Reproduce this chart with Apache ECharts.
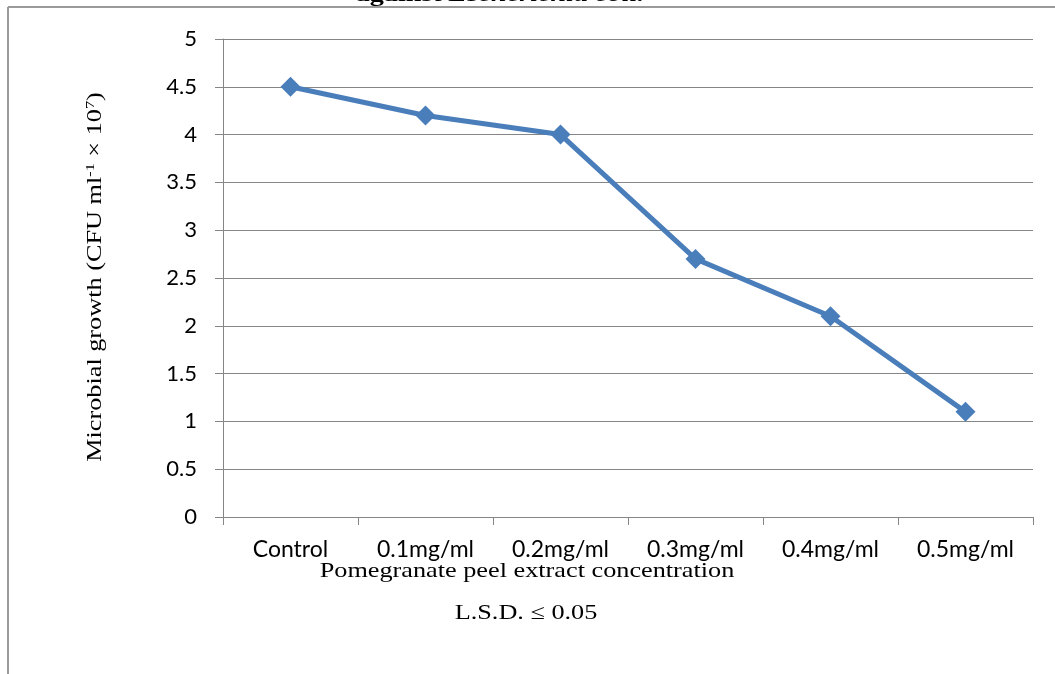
<!DOCTYPE html>
<html>
<head>
<meta charset="utf-8">
<script src="https://cdn.jsdelivr.net/npm/echarts@6/dist/echarts.min.js"></script>
<style>
html,body{margin:0;padding:0;background:#fff;}
#chart{width:1055px;height:674px;}
</style>
</head>
<body>
<div id="chart"></div>
<script>
var categories = ['Control', '0.1mg/ml', '0.2mg/ml', '0.3mg/ml', '0.4mg/ml', '0.5mg/ml'];
var growthValues = [4.5, 4.2, 4.0, 2.7, 2.1, 1.1];
var yTicks = { min: 0, max: 5, interval: 0.5 };

var chart = echarts.init(document.getElementById('chart'));
var serif = '"Liberation Serif", "Times New Roman", serif';
var sans = 'Lato, "Open Sans", sans-serif';

chart.setOption({
  animation: false,
  backgroundColor: '#fff',
  grid: { left: 223, right: 22, top: 39, bottom: 157, containLabel: false },
  xAxis: {
    type: 'category',
    data: categories,
    boundaryGap: true,
    axisLine: { show: true, lineStyle: { color: '#868686', width: 1 } },
    axisTick: { show: true, length: 8, lineStyle: { color: '#868686' } },
    axisLabel: { color: '#000', fontFamily: sans, fontSize: 23, margin: 21 },
    splitLine: { show: false }
  },
  yAxis: {
    type: 'value',
    min: yTicks.min, max: yTicks.max, interval: yTicks.interval,
    axisLine: { show: true, lineStyle: { color: '#868686', width: 1 } },
    axisTick: { show: true, length: 8, lineStyle: { color: '#868686' } },
    axisLabel: { color: '#000', fontFamily: sans, fontSize: 22, margin: 26 },
    splitLine: { show: true, lineStyle: { color: '#868686', width: 1 } }
  },
  series: [{
    type: 'line',
    data: growthValues,
    symbol: 'diamond',
    symbolSize: 20,
    lineStyle: { color: '#4a7ebb', width: 5 },
    itemStyle: { color: '#4a7ebb' }
  }],
  graphic: [
    { type: 'line', shape: { x1: 8, y1: 7, x2: 1055, y2: 7 }, style: { stroke: '#9a9a9a', lineWidth: 2 } },
    { type: 'line', shape: { x1: 8, y1: 7, x2: 8, y2: 674 }, style: { stroke: '#9a9a9a', lineWidth: 2 } },
    {
      type: 'text', x: 500, y: 6, scaleX: 1.28,
      style: {
        text: '{a|against }{b|Escherichia coli.}',
        align: 'center', verticalAlign: 'bottom',
        rich: {
          a: { fontFamily: serif, fontSize: 22, fontWeight: 'bold', fill: '#000' },
          b: { fontFamily: serif, fontSize: 22, fontWeight: 'bold', fontStyle: 'italic', fill: '#000' }
        }
      }
    },
    {
      type: 'text', x: 527, y: 571, scaleX: 1.25,
      style: {
        text: 'Pomegranate peel extract concentration',
        fontFamily: serif, fontSize: 21, fill: '#000',
        align: 'center', verticalAlign: 'middle'
      }
    },
    {
      type: 'text', x: 526, y: 613, scaleX: 1.25,
      style: {
        text: 'L.S.D. \u2264 0.05',
        fontFamily: serif, fontSize: 21, fill: '#000',
        align: 'center', verticalAlign: 'middle'
      }
    },
    {
      type: 'text', x: 95, y: 277, rotation: Math.PI / 2, scaleX: 1.25,
      style: {
        text: '{t|Microbial growth (CFU ml}{s|-1}{t| \u00d7 10}{s|7}{t|)}',
        align: 'center', verticalAlign: 'middle',
        rich: {
          t: { fontFamily: serif, fontSize: 21, fill: '#000', verticalAlign: 'middle' },
          s: { fontFamily: serif, fontSize: 13, fill: '#000', verticalAlign: 'top', padding: [0, 0, 8, 0] }
        }
      }
    }
  ]
});
</script>
</body>
</html>
